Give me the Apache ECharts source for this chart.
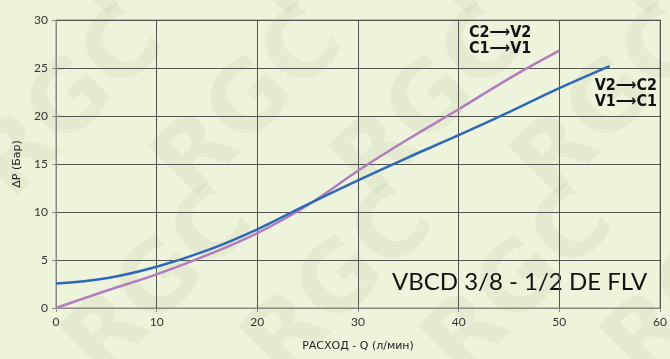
<!DOCTYPE html>
<html>
<head>
<meta charset="utf-8">
<script src="https://cdn.jsdelivr.net/npm/echarts@6/dist/echarts.min.js"></script>
<style>
  html, body { margin: 0; padding: 0; background: #eef4dc; }
  #chart { width: 670px; height: 359px; }
</style>
</head>
<body>
<div id="chart"></div>
<script>
// flow Q (l/min) vs pressure drop (bar)
var flowC2V2 = [0, 5, 10, 15, 20, 25, 30, 35, 40, 45, 50];
var dpC2V2 = [0, 1.8, 3.5, 5.5, 7.8, 10.7, 14.3, 17.6, 20.7, 23.9, 26.8];

var flowV2C2 = [0, 5, 10, 15, 20, 25, 30, 35, 40, 45, 50, 55];
var dpV2C2 = [2.55, 3.1, 4.3, 6.0, 8.2, 10.8, 13.3, 15.7, 18.0, 20.4, 22.9, 25.2];

var labelC = ['C2\u27F6V2', 'C1\u27F6V1'];
var labelV = ['V2\u27F6C2', 'V1\u27F6C1'];
var titleText = 'VBCD 3/8 - 1/2 DE FLV';

function pairs(xs, ys) {
    return xs.map(function (x, i) { return [x, ys[i]]; });
}

var chart = echarts.init(document.getElementById('chart'));

// watermark "RGC", reading up to the right
var marks = [];
var rows = [[-40, 150], [50, 330], [50, -30]];
rows.forEach(function (r) {
    for (var k = 0; k < 5; k++) {
        marks.push({
            type: 'text', x: r[0] + 180 * k, y: r[1], rotation: Math.PI / 4, z: -10,
            style: { text: 'RGC', fill: 'rgba(110,135,80,0.08)', font: 'bold 95px "DejaVu Sans"' }
        });
    }
});

var option = {
    backgroundColor: '#eef4dc',
    animation: false,
    grid: { left: 56, right: 10, top: 20, bottom: 51, show: true, borderColor: '#8a8a80', borderWidth: 1 },
    xAxis: {
        type: 'value', min: 0, max: 60, interval: 10,
        name: 'РАСХОД - Q (л/мин)', nameLocation: 'middle', nameGap: 33,
        nameTextStyle: { color: '#222', fontSize: 11, fontFamily: 'DejaVu Sans' },
        axisLine: { lineStyle: { color: '#8a8a80' } },
        axisTick: { show: true, length: 4, lineStyle: { color: '#8a8a80' } },
        axisLabel: { color: '#333', fontSize: 12, fontFamily: 'Lato', margin: 8 },
        splitLine: { lineStyle: { color: '#55554f', width: 1 } }
    },
    yAxis: {
        type: 'value', min: 0, max: 30, interval: 5,
        name: '\u0394P (Бар)', nameLocation: 'middle', nameGap: 33, nameRotate: 90,
        nameTextStyle: { color: '#222', fontSize: 11, fontFamily: 'DejaVu Sans' },
        axisLine: { show: true, lineStyle: { color: '#8a8a80' } },
        axisTick: { show: true, length: 4, lineStyle: { color: '#8a8a80' } },
        axisLabel: { color: '#333', fontSize: 12, fontFamily: 'Lato', margin: 8 },
        splitLine: { lineStyle: { color: '#55554f', width: 1 } }
    },
    series: [{
        name: labelC.join(' '),
        type: 'line', smooth: 0.4, symbol: 'none',
        lineStyle: { color: '#b27cc0', width: 2.5 },
        data: pairs(flowC2V2, dpC2V2)
    }, {
        name: labelV.join(' '),
        type: 'line', smooth: 0.4, symbol: 'none',
        lineStyle: { color: '#2f68b4', width: 2.5 },
        data: pairs(flowV2C2, dpV2C2)
    }],
    graphic: marks.concat([{
        type: 'text', left: 469, top: 25,
        style: { text: labelC.join('\n'), fill: '#111', font: 'bold 16px "DejaVu Sans Condensed"', lineHeight: 16 }
    }, {
        type: 'text', right: 13, top: 78,
        style: { text: labelV.join('\n'), fill: '#111', font: 'bold 16px "DejaVu Sans Condensed"', lineHeight: 16, align: 'right' }
    }, {
        type: 'text', left: 392, top: 270,
        style: { text: titleText, fill: '#111', font: '24px Lato' }
    }])
};
chart.setOption(option);
</script>
</body>
</html>
